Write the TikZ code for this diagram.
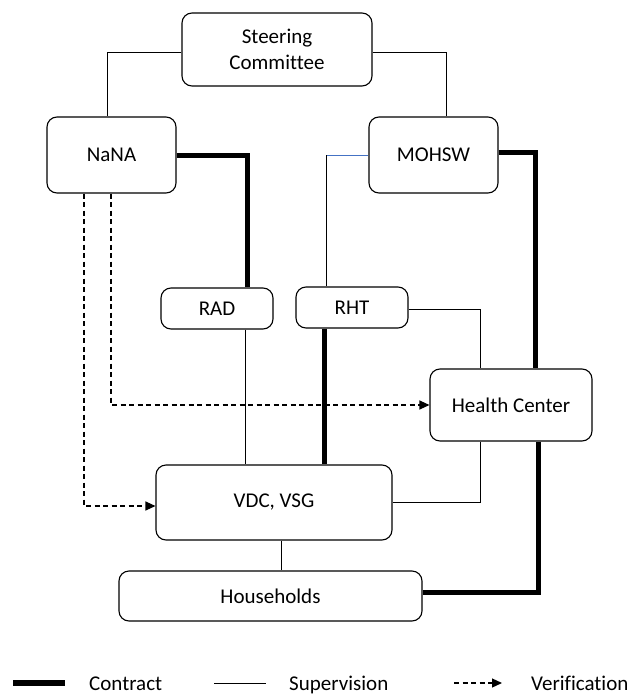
\documentclass[tikz,border=0pt]{standalone}
\usepackage{fontspec}
\setmainfont{Carlito}[Ligatures=NoCommon]
\usetikzlibrary{arrows.meta}
\begin{document}
\begin{tikzpicture}[x=1pt,y=-1pt,
  box/.style={draw, rounded corners=10pt, line width=1.1pt, inner sep=0pt, align=center,
    font=\fontsize{21}{26}\selectfont},
  thinline/.style={line width=1pt},
  thickline/.style={line width=5pt, line join=miter},
  bluethin/.style={line width=1pt, draw={rgb,255:red,68;green,114;blue,196}},
  verif/.style={line width=1.2pt, dash pattern=on 5pt off 3.5pt, -{Triangle[length=10pt,width=9pt]}},
  legtext/.style={anchor=base west, inner sep=0pt, font=\fontsize{21}{26}\selectfont}]
\useasboundingbox (0,0) rectangle (636,696);

\node[box, minimum width=190pt, minimum height=73pt] (sc) at (277,49.5) {Steering\\Committee};
\node[box, minimum width=129pt, minimum height=76pt] (nana) at (111.5,155) {NaNA};
\node[box, minimum width=129pt, minimum height=76pt] (mohsw) at (433.5,155) {MOHSW};
\node[box, minimum width=112pt, minimum height=41pt] (rad) at (217,308.5) {RAD};
\node[box, minimum width=112pt, minimum height=41pt] (rht) at (352,307.5) {RHT};
\node[box, minimum width=162pt, minimum height=72pt] (hc) at (511,405) {Health Center};
\node[box, minimum width=236pt, minimum height=75pt] (vdc) at (274,502.5) {VDC, VSG};
\node[box, minimum width=303pt, minimum height=50pt] (hh) at (270.5,596) {Households};

% supervision
\draw[thinline] ([yshift=-2.5pt]sc.west) -| ([xshift=-4.5pt]nana.north);
\draw[thinline] ([yshift=-2.5pt]sc.east) -| ([xshift=12.5pt]mohsw.north);
\coordinate (bl) at (326,155);
\draw[bluethin] (mohsw.west) -- (bl);
\draw[thinline] (bl) -- ([xshift=-26pt]rht.north);
\draw[thinline] ([xshift=28pt]rad.south) -- ([xshift=28pt]rad.south |- vdc.north);
\draw[thinline] ([yshift=-1.5pt]rht.east) -| ([xshift=-31pt]hc.north);
\draw[thinline] ([xshift=-31pt]hc.south) |- (vdc.east);
\draw[thinline] ([xshift=7pt]vdc.south) -- ([xshift=7pt]vdc.south |- hh.north);

% contract
\draw[thickline] (nana.east) -| ([xshift=30pt]rad.north);
\draw[thickline] ([yshift=3pt]mohsw.east) -| ([xshift=24pt]hc.north);
\draw[thickline] ([xshift=-28pt]rht.south) -- ([xshift=-28pt]rht.south |- vdc.north);
\draw[thickline] ([xshift=27pt]hc.south) |- ([yshift=4pt]hh.east);

% verification
\draw[verif] ([xshift=-27.5pt]nana.south) |- ([yshift=-3.5pt]vdc.west);
\draw[verif] ([xshift=-0.5pt]nana.south) |- (hc.west);

% legend
\coordinate (l1a) at (13,683); \coordinate (l1b) at (65,683);
\coordinate (l2a) at (214,683); \coordinate (l2b) at (266,683);
\coordinate (l3a) at (454,683); \coordinate (l3b) at (502,683);
\draw[line width=5.5pt] (l1a) -- (l1b);
\draw[thinline] (l2a) -- (l2b);
\draw[verif] (l3a) -- (l3b);
\node[legtext] (lc) at (89,690) {Contract};
\node[legtext] (ls) at (289,690) {Supervision};
\node[legtext] (lv) at (531,690) {Verification};
\end{tikzpicture}
\end{document}
